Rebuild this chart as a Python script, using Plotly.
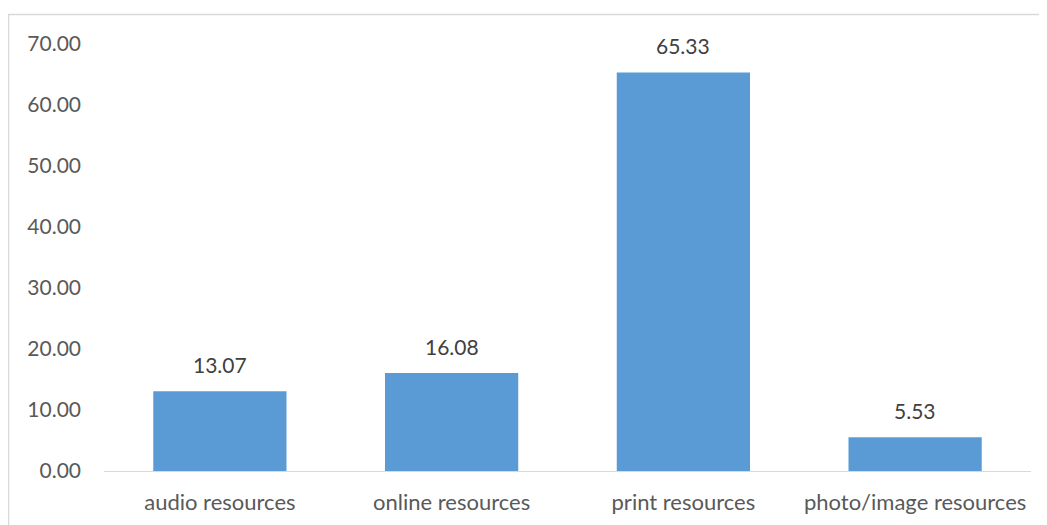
import plotly.graph_objects as go

categories = ["audio resources", "online resources", "print resources", "photo/image resources"]
values = [13.07, 16.08, 65.33, 5.53]
y_ticks = [0, 10, 20, 30, 40, 50, 60, 70]
y_tick_labels = [f"{v:.2f}" for v in y_ticks]

font_family = "Lato, Open Sans, sans-serif"
txt_color = "#595959"
FS = 21

fig = go.Figure(go.Bar(
    x=categories, y=values,
    marker=dict(color="#5b9bd5", line=dict(width=0)),
    cliponaxis=False,
))

for c, v in zip(categories, values):
    fig.add_annotation(x=c, y=v, text=f"{v:.2f}", showarrow=False,
                       yanchor="bottom", yshift=12,
                       font=dict(family=font_family, size=FS, color="#404040"))

# page has 8px body offset; figure coords are page coords minus 8
OFF = 8
W, H = 1047, 525
L = 104 - OFF
R = W - (1031 - OFF)
T = 44 - OFF
B = H - (471 - OFF)
pw, ph = W - L - R, H - T - B

def px(x):
    return (x - OFF - L) / pw

def py(y):
    return (H - B - (y - OFF)) / ph

fig.update_layout(
    width=W, height=H,
    margin=dict(l=L, r=R, t=T, b=B, autoexpand=False),
    plot_bgcolor="white", paper_bgcolor="white",
    bargap=0.425,
    showlegend=False,
    font=dict(family=font_family, size=FS, color=txt_color),
    xaxis=dict(showline=True, linecolor="#d9d9d9", linewidth=1, ticks="",
               tickfont=dict(size=22, color=txt_color), ticklabelstandoff=12,
               showgrid=False, zeroline=False, automargin=False),
    yaxis=dict(range=[0, 70], tickvals=y_ticks, ticktext=y_tick_labels,
               showgrid=False, zeroline=False, showline=False, ticks="",
               tickfont=dict(size=FS, color=txt_color), ticklabelstandoff=22,
               automargin=False),
    shapes=[dict(type="rect", xref="paper", yref="paper",
                 x0=px(8.5), x1=px(1046.5), y0=py(560), y1=py(14.5),
                 line=dict(color="#d9d9d9", width=1.5), fillcolor="rgba(0,0,0,0)",
                 layer="below")],
)

fig.write_html("out.html")
